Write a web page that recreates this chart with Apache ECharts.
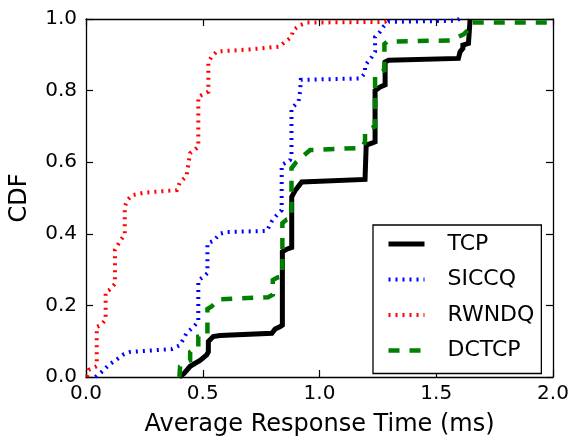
<!DOCTYPE html>
<html>
<head>
<meta charset="utf-8">
<script src="https://cdn.jsdelivr.net/npm/echarts@6/dist/echarts.min.js"></script>
<style>html,body{margin:0;padding:0;background:#fff}#c{width:574px;height:446px}</style>
</head>
<body>
<div id="c"></div>
<script>
// ---- data (x: response time in ms, y: CDF) ----
const xTicks = [0.0, 0.5, 1.0, 1.5, 2.0];
const yTicks = [0.0, 0.2, 0.4, 0.6, 0.8, 1.0];
const seriesNames = ['TCP', 'SICCQ', 'RWNDQ', 'DCTCP'];

const tcpX = [0.40,0.42,0.446,0.49,0.517,0.524,0.524,0.545,0.574,0.796,0.81,0.83,0.841,0.841,0.86,0.881,0.881,0.895,0.924,1.195,1.2,1.2,1.224,1.238,1.238,1.26,1.281,1.281,1.296,1.595,1.602,1.614,1.614,1.638,1.645,1.645];
const tcpY = [0.0,0.01,0.03,0.047,0.062,0.07,0.099,0.113,0.116,0.122,0.134,0.14,0.145,0.35,0.357,0.362,0.503,0.52,0.545,0.552,0.557,0.648,0.653,0.657,0.80,0.81,0.816,0.88,0.885,0.89,0.908,0.918,0.927,0.932,0.937,1.0];

const siccqX = [0.04,0.06,0.077,0.10,0.127,0.163,0.19,0.367,0.403,0.43,0.46,0.481,0.481,0.503,0.52,0.52,0.545,0.574,0.60,0.774,0.795,0.817,0.838,0.838,0.874,0.88,0.88,0.91,0.917,0.92,1.174,1.195,1.195,1.224,1.238,1.238,1.26,1.274,1.296,1.58,1.60];
const siccqY = [0.0,0.01,0.02,0.035,0.047,0.064,0.07,0.078,0.089,0.122,0.14,0.155,0.27,0.28,0.29,0.373,0.38,0.40,0.405,0.408,0.434,0.452,0.466,0.592,0.606,0.62,0.75,0.769,0.797,0.83,0.834,0.848,0.87,0.894,0.909,0.95,0.965,0.979,0.992,0.995,1.0];

const rwndqX = [0.005,0.012,0.03,0.046,0.046,0.063,0.084,0.084,0.099,0.124,0.124,0.149,0.166,0.166,0.177,0.198,0.25,0.389,0.403,0.43,0.446,0.481,0.481,0.524,0.524,0.538,0.56,0.70,0.83,0.845,0.88,0.887,0.917,0.946,1.28,1.30];
const rwndqY = [0.0,0.02,0.025,0.03,0.14,0.145,0.16,0.238,0.243,0.26,0.355,0.383,0.397,0.476,0.494,0.508,0.515,0.522,0.545,0.56,0.625,0.643,0.783,0.797,0.88,0.895,0.909,0.915,0.923,0.932,0.95,0.969,0.983,0.99,0.992,1.0];

const dctcpX = [0.40,0.403,0.42,0.446,0.446,0.46,0.481,0.481,0.50,0.52,0.52,0.538,0.567,0.78,0.80,0.80,0.82,0.841,0.841,0.86,0.88,0.88,0.90,0.917,0.96,1.18,1.195,1.195,1.22,1.238,1.238,1.26,1.278,1.278,1.29,1.56,1.60,1.617,1.645,1.652,2.0];
const dctcpY = [0.0,0.03,0.04,0.047,0.07,0.078,0.08,0.113,0.116,0.117,0.19,0.197,0.217,0.223,0.23,0.271,0.278,0.28,0.43,0.44,0.443,0.583,0.60,0.61,0.634,0.64,0.657,0.685,0.695,0.70,0.844,0.852,0.857,0.93,0.937,0.94,0.952,0.957,0.975,0.99,0.99];

function pairs(xs, ys) { return xs.map((x, i) => [x, ys[i]]); }

const FONT = 'DejaVu Sans';
const chart = echarts.init(document.getElementById('c'), null, {renderer: 'canvas'});

const frameLine = {show: true, onZero: false, lineStyle: {color: '#000', width: 1.3}};
const tickIn = {show: true, inside: true, length: 7, lineStyle: {color: '#000', width: 1.2}};

function lineSeries(name, data, color, width, type) {
  return {
    name: name, type: 'line', data: data, symbol: 'none', showSymbol: false,
    xAxisIndex: 0, yAxisIndex: 0, animation: false,
    lineStyle: {color: color, width: width, type: type, cap: 'butt', join: 'miter'},
    itemStyle: {color: color}
  };
}

chart.setOption({
  animation: false,
  backgroundColor: '#fff',
  grid: {left: 86, right: 21, top: 19, bottom: 69, containLabel: false},
  xAxis: [
    {type: 'value', position: 'bottom', min: xTicks[0], max: xTicks[xTicks.length-1], interval: 0.5,
     axisLine: frameLine, axisTick: tickIn, splitLine: {show: false},
     axisLabel: {color: '#000', fontSize: 20, fontFamily: FONT, margin: 7, formatter: v => v.toFixed(1)},
     name: 'Average Response Time (ms)', nameLocation: 'middle', nameGap: 36,
     nameTextStyle: {color: '#000', fontSize: 24, fontFamily: FONT}},
    {type: 'value', position: 'top', min: xTicks[0], max: xTicks[xTicks.length-1], interval: 0.5,
     axisLine: frameLine, axisTick: tickIn, splitLine: {show: false}, axisLabel: {show: false}}
  ],
  yAxis: [
    {type: 'value', position: 'left', min: yTicks[0], max: yTicks[yTicks.length-1], interval: 0.2,
     axisLine: frameLine, axisTick: tickIn, splitLine: {show: false},
     axisLabel: {color: '#000', fontSize: 20, fontFamily: FONT, margin: 9, formatter: v => v.toFixed(1)},
     name: 'CDF', nameLocation: 'middle', nameGap: 54,
     nameTextStyle: {color: '#000', fontSize: 24, fontFamily: FONT}},
    {type: 'value', position: 'right', min: yTicks[0], max: yTicks[yTicks.length-1], interval: 0.2,
     axisLine: frameLine, axisTick: tickIn, splitLine: {show: false}, axisLabel: {show: false}}
  ],
  legend: {
    show: true, orient: 'vertical', left: 373, top: 225,
    backgroundColor: '#fff', borderColor: '#000', borderWidth: 1.3, borderRadius: 0,
    padding: [8, 7, 12, 13],
    itemWidth: 36, itemHeight: 20, itemGap: 13.5,
    itemStyle: {opacity: 0, borderWidth: 0},
    lineStyle: {width: 'inherit', type: 'inherit', color: 'inherit', cap: 'butt'},
    textStyle: {color: '#000', fontSize: 22, fontFamily: FONT, padding: [0, 0, 0, 18], lineHeight: 20},
    data: seriesNames
  },
  series: [
    lineSeries(seriesNames[0], pairs(tcpX, tcpY), '#000000', 5, 'solid'),
    lineSeries(seriesNames[1], pairs(siccqX, siccqY), '#0000ff', 4, [2, 5]),
    lineSeries(seriesNames[2], pairs(rwndqX, rwndqY), '#ff0000', 4, [2, 5]),
    lineSeries(seriesNames[3], pairs(dctcpX, dctcpY), '#008000', 4.5, [11, 10])
  ]
});
</script>
</body>
</html>
